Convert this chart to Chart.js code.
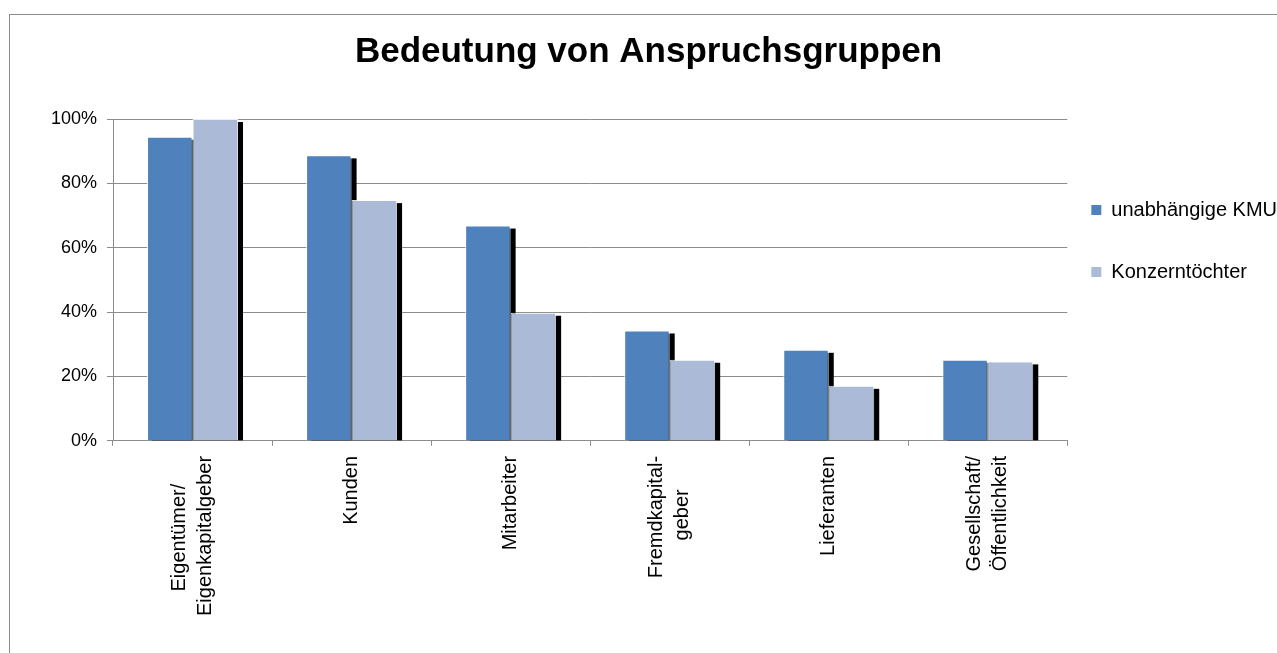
<!DOCTYPE html>
<html>
<head>
<meta charset="utf-8">
<script src="https://cdn.jsdelivr.net/npm/chart.js@4.4.1/dist/chart.umd.min.js"></script>
<style>
html,body{margin:0;padding:0;overflow:hidden;background:#fff;width:1277px;height:653px;}
#frame{position:absolute;left:9px;top:14px;width:1320px;height:720px;border:1px solid #8c8c8c;box-sizing:border-box;}
#c{position:absolute;left:10px;top:15px;}
</style>
</head>
<body>
<div id="frame"></div>
<canvas id="c" width="1277" height="638"></canvas>
<script>
// ---- data ----
const categories = [
  ['Eigentümer/', 'Eigenkapitalgeber'],
  'Kunden',
  'Mitarbeiter',
  ['Fremdkapital-', 'geber'],
  'Lieferanten',
  ['Gesellschaft/', 'Öffentlichkeit']
];
const seriesNames = ['unabhängige KMU', 'Konzerntöchter'];
const unabhaengigeKMU = [94.5, 88.7, 66.9, 34.3, 28.3, 25.2];
const konzerntoechter = [100, 74.8, 39.8, 25.2, 17.1, 24.7];
const yTickValues = [0, 20, 40, 60, 80, 100];

// ---- styling ----
const FAMILY = '"Liberation Sans", Arial, sans-serif';
const GRID = '#8c8c8c';

// centre shorter lines of a multi-line (rotated, right-aligned) label with trailing spaces
const mctx = document.createElement('canvas').getContext('2d');
mctx.font = '20px ' + FAMILY;
function centreLines(lab) {
  if (!Array.isArray(lab)) return lab;
  const ws = lab.map(l => mctx.measureText(l).width);
  const max = Math.max(...ws);
  const sp = mctx.measureText(' ').width;
  return lab.map((l, i) => l + ' '.repeat(Math.round((max - ws[i]) / 2 / sp)));
}
const displayLabels = categories.map(centreLines);

const shadowPlugin = {
  id: 'barShadow',
  beforeDatasetsDraw(chart) {
    const {ctx, chartArea} = chart;
    ctx.save();
    ctx.beginPath();
    ctx.rect(chartArea.left, chartArea.top - 10, chartArea.width + 10, chartArea.height + 10);
    ctx.clip();
    ctx.fillStyle = '#000';
    chart.data.datasets.forEach((ds, i) => {
      chart.getDatasetMeta(i).data.forEach(bar => {
        const p = bar.getProps(['x', 'y', 'base', 'width'], true);
        const dx = 5, dy = 3;
        ctx.fillRect(p.x - p.width / 2 + dx, p.y + dy, p.width, p.base - p.y - dy);
      });
    });
    ctx.restore();
  }
};

const labelCentrePlugin = {
  id: 'labelCentre',
  beforeDraw(chart) {
    const sc = chart.scales.x;
    const items = sc.getLabelItems();
    items.forEach(it => {
      if (Array.isArray(it.label) && !it._centred) {
        it.options.translation[0] -= (it.label.length - 1) * it.font.lineHeight / 2;
        it._centred = true;
      }
    });
  }
};

const legendShiftPlugin = {
  id: 'legendShift',
  afterLayout(chart) {
    const lg = chart.legend;
    const dy = 161;
    lg.top += dy;
    lg.bottom += dy;
  }
};

new Chart(document.getElementById('c'), {
  type: 'bar',
  data: {
    labels: displayLabels,
    datasets: [
      {
        label: seriesNames[0],
        data: unabhaengigeKMU,
        backgroundColor: '#4F81BD',
        borderColor: 'rgba(255,255,255,0.85)',
        borderWidth: 1,
        categoryPercentage: 0.572,
        barPercentage: 1
      },
      {
        label: seriesNames[1],
        data: konzerntoechter,
        backgroundColor: '#AABAD7',
        borderColor: 'rgba(255,255,255,0.85)',
        borderWidth: 1,
        categoryPercentage: 0.572,
        barPercentage: 1
      }
    ]
  },
  options: {
    responsive: false,
    animation: false,
    devicePixelRatio: 1,
    layout: { padding: { left: 0, right: 0, top: 0, bottom: 27 } },
    scales: {
      x: {
        grid: { offset: true, drawOnChartArea: false, drawTicks: true, tickLength: 5, color: GRID },
        border: { display: true, color: GRID },
        ticks: {
          autoSkip: false, minRotation: 90, maxRotation: 90, padding: 10,
          color: '#000', font: { family: FAMILY, size: 20, lineHeight: 1.3 }
        }
      },
      y: {
        min: 0, max: 100,
        afterFit: s => { s.width = 103; },
        afterBuildTicks: s => { s.ticks = yTickValues.map(v => ({ value: v })); },
        grid: { color: GRID, tickLength: 6, drawTicks: true },
        border: { display: true, color: GRID },
        ticks: {
          padding: 10, color: '#000',
          font: { family: FAMILY, size: 18 },
          callback: v => v + '%'
        }
      }
    },
    plugins: {
      title: {
        display: true,
        text: 'Bedeutung von Anspruchsgruppen',
        color: '#000',
        font: { family: FAMILY, size: 35, weight: 'bold', lineHeight: 1.2 },
        padding: { top: 16, bottom: 46 }
      },
      legend: {
        position: 'right',
        align: 'start',
        labels: {
          boxWidth: 10, boxHeight: 10, padding: 24, color: '#000',
          font: { family: FAMILY, size: 20, lineHeight: 1.9 },
          generateLabels: chart => Chart.defaults.plugins.legend.labels.generateLabels(chart).map(it => {
            it.text = [it.text];
            it.lineWidth = 0;
            it.strokeStyle = it.fillStyle;
            return it;
          })
        }
      },
      tooltip: { enabled: false }
    }
  },
  plugins: [shadowPlugin, labelCentrePlugin, legendShiftPlugin]
});
</script>
</body>
</html>
